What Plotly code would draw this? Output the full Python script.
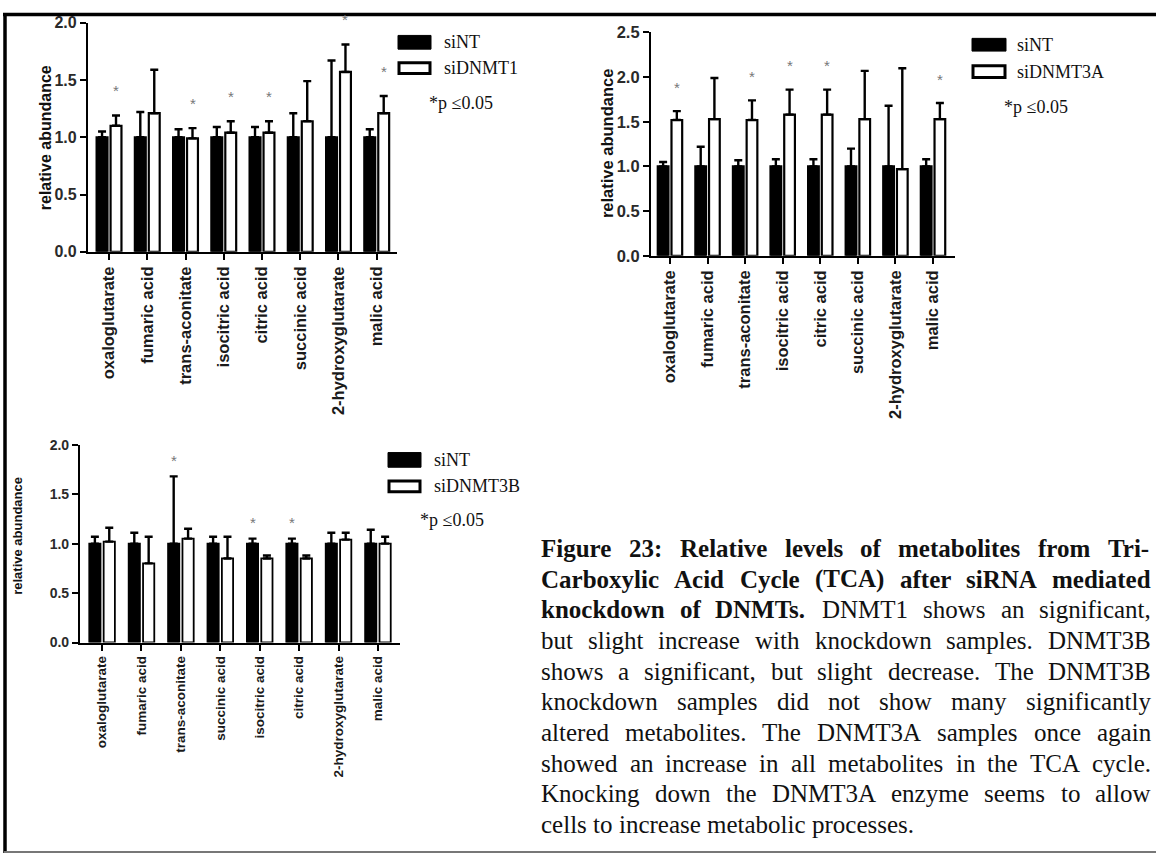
import plotly.graph_objects as go

W, H = 1156, 863

# ---------------- data ----------------
cats_top = ["oxaloglutarate", "fumaric acid", "trans-aconitate", "isocitric acid",
            "citric acid", "succinic acid", "2-hydroxyglutarate", "malic acid"]
cats_bottom = ["oxaloglutarate", "fumaric acid", "trans-aconitate", "succinic acid",
               "isocitric acid", "citric acid", "2-hydroxyglutarate", "malic acid"]

# Panel 1: siNT vs siDNMT1
p1_sint = [1.00, 1.00, 1.00, 1.00, 1.00, 1.00, 1.00, 1.00]
p1_sint_err = [0.05, 0.22, 0.07, 0.09, 0.09, 0.21, 0.67, 0.07]
p1_kd = [1.10, 1.21, 0.99, 1.04, 1.04, 1.14, 1.57, 1.21]
p1_kd_err = [0.09, 0.38, 0.09, 0.10, 0.10, 0.35, 0.24, 0.15]
p1_sig = [True, False, True, True, True, False, True, True]

# Panel 2: siNT vs siDNMT3A
p2_sint = [1.00, 1.00, 1.00, 1.00, 1.00, 1.00, 1.00, 1.00]
p2_sint_err = [0.05, 0.22, 0.07, 0.08, 0.08, 0.20, 0.68, 0.08]
p2_kd = [1.52, 1.53, 1.52, 1.58, 1.58, 1.53, 0.97, 1.53]
p2_kd_err = [0.10, 0.46, 0.22, 0.28, 0.28, 0.54, 1.13, 0.18]
p2_sig = [True, False, True, True, True, False, False, True]

# Panel 3: siNT vs siDNMT3B
p3_sint = [1.00, 1.00, 1.00, 1.00, 1.00, 1.00, 1.00, 1.00]
p3_sint_err = [0.07, 0.11, 0.68, 0.07, 0.05, 0.05, 0.11, 0.14]
p3_kd = [1.02, 0.80, 1.05, 0.85, 0.85, 0.85, 1.04, 1.00]
p3_kd_err = [0.14, 0.27, 0.10, 0.22, 0.03, 0.03, 0.07, 0.07]
p3_sig = [False, False, True, False, True, True, False, False]

legend_ctrl = "siNT"
legend_kd = ["siDNMT1", "siDNMT3A", "siDNMT3B"]
sig_note = "*p \u22640.05"
y_title = "relative abundance"

caption_lines = [
    "Figure 23: Relative levels of metabolites from Tri-",
    "Carboxylic Acid Cycle (TCA) after siRNA mediated",
    "knockdown of DNMTs. DNMT1 shows an significant,",
    "but slight increase with knockdown samples. DNMT3B",
    "shows a significant, but slight decrease. The DNMT3B",
    "knockdown samples did not show many significantly",
    "altered metabolites. The DNMT3A samples once again",
    "showed an increase in all metabolites in the TCA cycle.",
    "Knocking down the DNMT3A enzyme seems to allow",
    "cells to increase metabolic processes.",
]
caption_bold_words = [8, 7, 3, 0, 0, 0, 0, 0, 0, 0]

SERIF = "Times New Roman, Liberation Serif, Tinos, serif"
SANS = "Arial, Liberation Sans, sans-serif"

# ---------------- helpers ----------------
def px(x):
    return x / W


def py(y):
    return 1 - y / H


fig = go.Figure()

panels = [
    dict(cats=cats_top, nt=p1_sint, nte=p1_sint_err, kd=p1_kd, kde=p1_kd_err, sig=p1_sig,
         xa="x", ya="y", star_side=1, star_shift=25, lw=2.2),
    dict(cats=cats_top, nt=p2_sint, nte=p2_sint_err, kd=p2_kd, kde=p2_kd_err, sig=p2_sig,
         xa="x2", ya="y2", star_side=1, star_shift=24, lw=2.2),
    dict(cats=cats_bottom, nt=p3_sint, nte=p3_sint_err, kd=p3_kd, kde=p3_kd_err, sig=p3_sig,
         xa="x3", ya="y3", star_side=-1, star_shift=16, lw=1.8),
]

annotations = []
for k, p in enumerate(panels):
    n = len(p["cats"])
    fig.add_trace(go.Bar(
        x=p["cats"], y=p["nt"], name=legend_ctrl, showlegend=False,
        marker=dict(color="black", line=dict(color="black", width=p["lw"])),
        error_y=dict(type="data", array=p["nte"], arrayminus=[0] * n, symmetric=False,
                     color="black", thickness=2.4, width=4),
        xaxis=p["xa"], yaxis=p["ya"], offsetgroup="a", hoverinfo="skip"))
    fig.add_trace(go.Bar(
        x=p["cats"], y=p["kd"], name=legend_kd[k], showlegend=False,
        marker=dict(color="white", line=dict(color="black", width=p["lw"])),
        error_y=dict(type="data", array=p["kde"], arrayminus=[0] * n, symmetric=False,
                     color="black", thickness=2.4, width=4),
        xaxis=p["xa"], yaxis=p["ya"], offsetgroup="b", hoverinfo="skip"))
    for i, c in enumerate(p["cats"]):
        if p["sig"][i]:
            top = max(p["nt"][i] + p["nte"][i], p["kd"][i] + p["kde"][i])
            annotations.append(dict(
                x=c, y=top, xref=p["xa"], yref=p["ya"], text="*", showarrow=False,
                xshift=7 * p["star_side"], yshift=p["star_shift"], yanchor="middle",
                font=dict(size=15, color="#777777", family=SANS)))

# ---------------- axes ----------------
tick_col = "#1a1a1a"


def xcfg(d0, d1, r0, r1, fs, anchor):
    return dict(domain=[px(d0), px(d1)], range=[r0, r1], type="category", anchor=anchor,
                showline=True, linecolor="black", linewidth=2.2, ticks="outside",
                ticklen=6, tickwidth=2, tickcolor="black", tickangle=-90,
                tickfont=dict(size=fs, color=tick_col, family=SANS, weight=700),
                showgrid=False, zeroline=False, fixedrange=True)


def ycfg(top, bottom, rmax, fs, anchor):
    return dict(domain=[py(bottom), py(top)], range=[0, rmax], anchor=anchor,
                dtick=0.5, tick0=0, tickformat=".1f",
                showline=True, linecolor="black", linewidth=2.2, ticks="outside",
                ticklen=6, tickwidth=2, tickcolor="black",
                tickfont=dict(size=fs, color="#2a2a2a", family=SANS, weight=700),
                showgrid=False, zeroline=False, fixedrange=True)


fig.update_layout(
    xaxis=xcfg(88, 397, -0.55, 7.53, 16.5, "y"),
    yaxis=ycfg(14, 248, 2.0, 16, "x"),
    xaxis2=xcfg(651, 955, -0.505, 7.585, 16.5, "y2"),
    yaxis2=ycfg(24, 252, 2.5, 16.5, "x2"),
    xaxis3=xcfg(80, 400, -0.56, 7.56, 13.5, "y3"),
    yaxis3=ycfg(445, 647, 2.0, 14, "x3"),
)

# y-axis titles
for xc, yc, fs in [(45, 132, 16), (607, 138, 16.5), (18, 538, 13)]:
    annotations.append(dict(x=px(xc), y=py(yc), xref="paper", yref="paper", text=y_title,
                            textangle=-90, showarrow=False, xanchor="center", yanchor="middle",
                            font=dict(size=fs, color="#111111", family=SANS, weight=700)))

# ---------------- legends ----------------
shapes = []
legend_boxes = [
    # (rect x0, x1, black y0, y1, white y0, y1, text x, note x, note y)
    (398, 431, 27, 41, 54, 67, 442, 427, 96),
    (972, 1006, 30, 43, 57, 71, 1015, 1002, 100),
    (388, 421, 453, 468, 481, 494, 432, 418, 522),
]
for k, (x0, x1, b0, b1, w0, w1, tx, nx, ny) in enumerate(legend_boxes):
    shapes.append(dict(type="rect", xref="paper", yref="paper", x0=px(x0), x1=px(x1),
                       y0=py(b1), y1=py(b0), fillcolor="black",
                       line=dict(color="black", width=1)))
    shapes.append(dict(type="rect", xref="paper", yref="paper", x0=px(x0 + 1), x1=px(x1 - 1),
                       y0=py(w1 - 1), y1=py(w0 + 1), fillcolor="white",
                       line=dict(color="black", width=3)))
    for txt, yc in [(legend_ctrl, (b0 + b1) / 2), (legend_kd[k], (w0 + w1) / 2)]:
        annotations.append(dict(x=px(tx), y=py(yc), xref="paper", yref="paper", text=txt,
                                showarrow=False, xanchor="left", yanchor="middle",
                                font=dict(size=18, color="#111111", family=SERIF)))
    annotations.append(dict(x=px(nx), y=py(ny), xref="paper", yref="paper", text=sig_note,
                            showarrow=False, xanchor="left", yanchor="middle",
                            font=dict(size=18, color="#111111", family=SERIF)))

# ---------------- caption (justified, Times metrics) ----------------
TR = dict(zip("ABCDEFGHIJKLMNOPQRSTUVWXYZ",
              [722, 667, 667, 722, 611, 556, 722, 722, 333, 389, 722, 611, 889, 722, 722,
               556, 722, 667, 556, 611, 722, 722, 944, 722, 722, 611]))
TR.update(dict(zip("abcdefghijklmnopqrstuvwxyz",
                   [444, 500, 444, 500, 444, 333, 500, 500, 278, 278, 500, 278, 778, 500, 500,
                    500, 500, 333, 389, 278, 500, 500, 722, 500, 500, 444])))
TR.update({" ": 250, "(": 333, ")": 333, ",": 250, "-": 333, ".": 250, ":": 278})
TR.update({d: 500 for d in "0123456789"})
TB = dict(zip("ABCDEFGHIJKLMNOPQRSTUVWXYZ",
              [722, 667, 722, 722, 667, 611, 778, 778, 389, 500, 778, 667, 944, 722, 778,
               611, 778, 722, 556, 667, 722, 722, 1000, 722, 722, 667]))
TB.update(dict(zip("abcdefghijklmnopqrstuvwxyz",
                   [500, 556, 444, 556, 444, 333, 500, 556, 278, 333, 556, 278, 833, 556, 500,
                    556, 556, 444, 389, 333, 556, 500, 722, 500, 500, 444])))
TB.update({" ": 250, "(": 333, ")": 333, ",": 250, "-": 333, ".": 250, ":": 333})
TB.update({d: 500 for d in "0123456789"})

cap_fs = 25
cap_x0, cap_x1 = 540, 1150
cap_y0, cap_dy = 551, 31.3
for li, line in enumerate(caption_lines):
    words = line.split(" ")
    nb = caption_bold_words[li]
    widths = []
    for wi, w in enumerate(words):
        tab = TB if wi < nb else TR
        widths.append(sum(tab.get(ch, 500) for ch in w) * cap_fs / 1000)
    last = li == len(caption_lines) - 1
    if last or len(words) < 2:
        gap = 250 * cap_fs / 1000
    else:
        gap = (cap_x1 - cap_x0 - sum(widths)) / (len(words) - 1)
    xcur = cap_x0
    yc = cap_y0 + li * cap_dy
    for wi, w in enumerate(words):
        txt = f"<b>{w}</b>" if wi < nb else w
        annotations.append(dict(x=px(xcur), y=py(yc), xref="paper", yref="paper", text=txt,
                                showarrow=False, xanchor="left", yanchor="middle", borderpad=0,
                                font=dict(size=cap_fs, color="#111111", family=SERIF)))
        xcur += widths[wi] + gap

# ---------------- frame ----------------
shapes.append(dict(type="line", xref="paper", yref="paper", x0=px(3), x1=1, y0=py(5.5),
                   y1=py(5.5), line=dict(color="black", width=3.5)))
shapes.append(dict(type="line", xref="paper", yref="paper", x0=px(5), x1=px(5), y0=py(4),
                   y1=py(862), line=dict(color="black", width=3.5)))
shapes.append(dict(type="line", xref="paper", yref="paper", x0=px(4), x1=1, y0=py(861),
                   y1=py(861), line=dict(color="#777777", width=2)))

fig.update_layout(
    width=W, height=H, margin=dict(l=0, r=0, t=0, b=0),
    paper_bgcolor="white", plot_bgcolor="white",
    barmode="group", bargap=0.27, bargroupgap=0.22,
    showlegend=False, annotations=annotations, shapes=shapes,
    font=dict(family=SANS, color="#111111"),
)

fig.write_html("out.html")
